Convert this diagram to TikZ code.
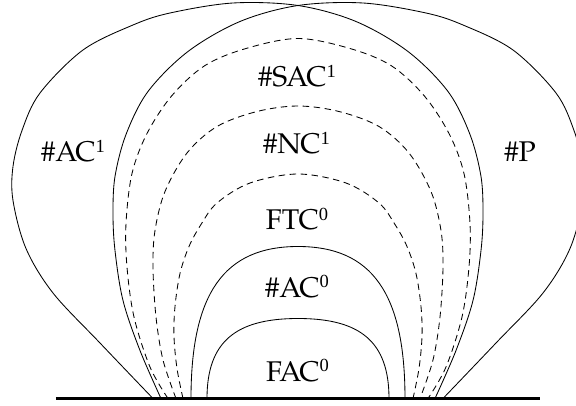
\documentclass[tikz,border=0pt]{standalone}
\usepackage{fontspec}
\setmainfont{TeX Gyre Pagella}
\newfontfamily\idxfont{Liberation Serif}
% raised index digit in a smaller size
\newcommand\idx[1]{\raisebox{9.5pt}{\idxfont\fontsize{18.5}{18.5}\selectfont #1}}
\begin{document}
\begin{tikzpicture}[x=1pt,y=1pt,
  curve/.style={line width=0.85pt, line join=round},
  dashcurve/.style={curve, dash pattern=on 6.5pt off 4.5pt},
  region/.style={anchor=base, inner sep=0pt, font=\fontsize{28.5}{32}\selectfont}]
\useasboundingbox (-298,-6.5) rectangle (278,398.5);
\clip (-298,-6.5) rectangle (278,398.5);

% ground line
\draw[line width=2.2pt] (-242,0) -- (242,0);

% #AC^1 balloon (wide on the left)
\draw[curve] plot[smooth, tension=0.55] coordinates {
  (-145,0) (-198,55.5) (-245,105.5) (-272,150) (-285,198) (-285,232)
  (-276,268) (-258,305.5) (-215,348.5) (-165,373.5) (-128,385.5)
  (-65,395.5) (0,393) (58,377) (110,347) (150,307) (172,264) (183,222)
  (185,185) (183,148) (175,98) (158,48) (137,0)};

% #P balloon (wide on the right)
\draw[curve] plot[smooth, tension=0.55] coordinates {
  (145,0) (198,55.5) (245,105.5) (272,150) (285,198) (285,232)
  (276,268) (258,305.5) (215,348.5) (165,373.5) (128,385.5)
  (65,395.5) (0,393) (-58,377) (-110,347) (-150,307) (-172,264) (-183,222)
  (-185,185) (-183,148) (-175,98) (-158,48) (-137,0)};

% #SAC^1
\draw[dashcurve] plot[smooth, tension=0.55] coordinates {
  (-130,0) (-148,31.5) (-164,81.5) (-171,131.5) (-172,175) (-166,225)
  (-151,265) (-126,303) (-93,333) (-52,350) (0,360) (52,350)
  (93,333) (126,303) (151,265) (166,225) (172,175) (171,131.5)
  (164,81.5) (148,31.5) (130,0)};

% #NC^1
\draw[dashcurve] plot[smooth, tension=0.55] coordinates {
  (-122,0) (-135,38.5) (-142,81.5) (-145,131) (-143,168) (-133,207)
  (-111,245.5) (-81,272) (-41,287) (0,292.5) (41,287) (81,272)
  (111,245.5) (133,207) (143,168) (145,131) (142,81.5) (135,38.5) (122,0)};

% FTC^0
\draw[dashcurve] plot[smooth, tension=0.55] coordinates {
  (-115,0) (-121,30) (-124,62) (-123,92) (-118,125) (-109,152) (-97,174)
  (-81,195.5) (-48,215.5) (0,224.5) (48,215.5) (81,195.5) (97,174)
  (109,152) (118,125) (123,92) (124,62) (121,30) (115,0)};

% #AC^0
\draw[curve] (-107,0) .. controls (-107,105) and (-74,152) .. (0,152)
                      .. controls (74,152) and (107,105) .. (107,0);

% FAC^0
\draw[curve] (-91,0) .. controls (-91,57) and (-62,80) .. (0,80)
                     .. controls (62,80) and (91,57) .. (91,0);

% region labels
\node[region] (ac1)  at (-225,236.5) {\#AC\idx{1}};
\node[region] (p)    at (222,236.5)  {\#P};
\node[region] (sac1) at (-1,311.5)   {\#SAC\idx{1}};
\node[region] (nc1)  at (-1.5,244.5) {\#NC\idx{1}};
\node[region] (ftc0) at (-1,168.5)   {FTC\idx{0}};
\node[region] (ac0)  at (-1,101.5)   {\#AC\idx{0}};
\node[region] (fac0) at (-0.5,17.5)  {FAC\idx{0}};
\end{tikzpicture}
\end{document}
